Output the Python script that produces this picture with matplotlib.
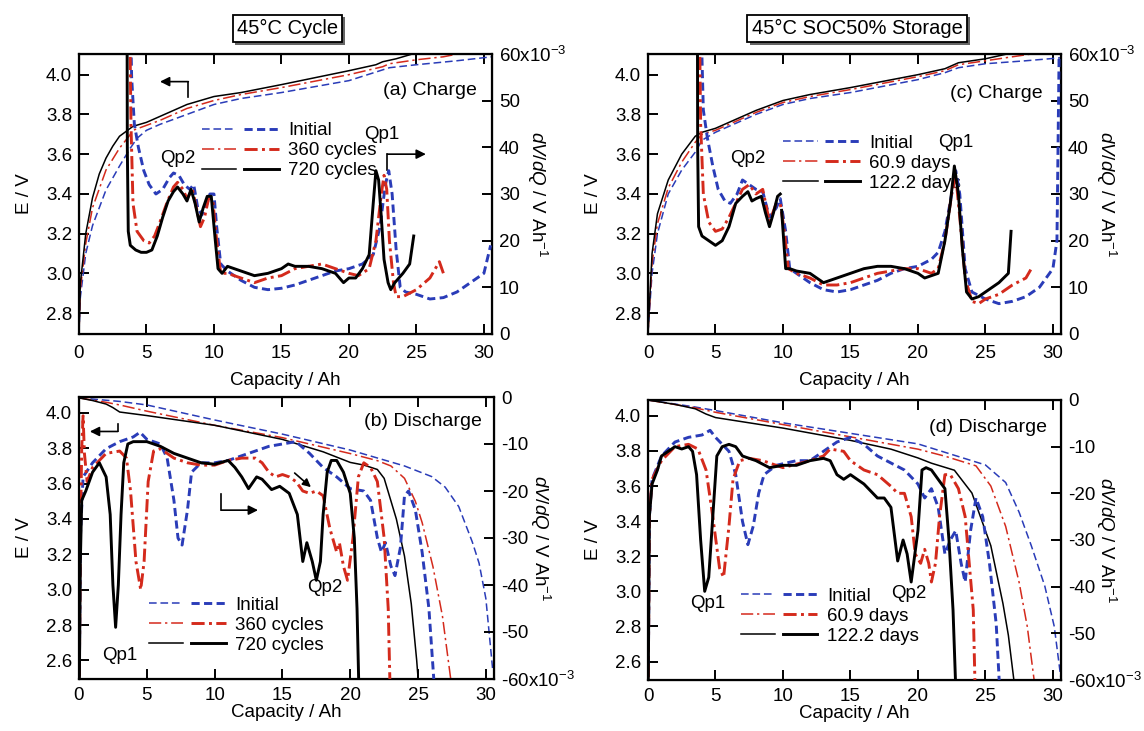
import numpy as np
import matplotlib
matplotlib.use("Agg")
import matplotlib.pyplot as plt
import matplotlib.patheffects as pe
from matplotlib.lines import Line2D
from matplotlib.legend_handler import HandlerTuple

plt.rcParams["font.family"] = ["Liberation Sans", "DejaVu Sans"]
plt.rcParams["mathtext.fontset"] = "custom"
plt.rcParams["mathtext.rm"] = "Liberation Sans"
plt.rcParams["mathtext.it"] = "Liberation Sans:italic"
plt.rcParams["font.size"] = 13.5

BLUE = "#2a3cb8"
RED = "#d42a1c"
BLACK = "black"

# ---- (a) 45C cycle, charge: E (V) vs capacity (Ah)
A_E_INIT = [(0, 2.7), (0.1, 2.88), (0.5, 3.1), (1, 3.24), (2, 3.42), (3, 3.54), (3.8, 3.63),
            (4.3, 3.68), (5, 3.72), (6, 3.75), (8, 3.8), (10, 3.85), (12, 3.88), (15, 3.91),
            (20, 3.97), (23, 4.035), (25, 4.05), (28, 4.07), (30.6, 4.09)]
A_E_360 = [(0, 2.7), (0.1, 2.92), (0.5, 3.15), (1, 3.33), (2, 3.52), (3, 3.63), (3.7, 3.69),
           (4, 3.72), (5, 3.745), (6, 3.77), (8, 3.83), (10, 3.87), (12, 3.9), (15, 3.935),
           (20, 4.0), (22.5, 4.04), (23, 4.055), (25, 4.075), (27, 4.09), (28.5, 4.11)]
A_E_720 = [(0, 2.7), (0.1, 2.95), (0.5, 3.2), (1, 3.38), (1.5, 3.5), (2, 3.58), (2.5, 3.64),
           (3, 3.69), (3.6, 3.72), (4, 3.74), (5, 3.76), (6, 3.79), (7, 3.82), (8, 3.85),
           (9, 3.87), (10, 3.89), (11, 3.9), (12, 3.91), (15, 3.95), (20, 4.02), (21, 4.035),
           (22, 4.05), (22.5, 4.065), (23.5, 4.08), (25, 4.11)]
# dV/dQ in 1e-3 V/Ah
A_D_INIT = [(3.8, 70), (3.9, 55), (4.1, 45), (4.4, 40), (4.8, 35), (5.2, 32), (5.7, 30),
            (6.2, 31), (6.7, 33.5), (7.0, 34.5), (7.4, 34), (7.8, 32), (8.2, 31), (8.5, 32),
            (8.8, 27), (9.1, 25.5), (9.5, 28), (9.7, 30), (10.0, 30), (10.2, 23), (10.5, 15),
            (11, 13.5), (12, 11.5), (13, 10), (14, 9.5), (15, 9.8), (16, 10.5), (17, 11.5),
            (18, 12.5), (19, 13.5), (20, 14), (21, 15), (21.8, 17), (22.3, 23), (22.7, 32),
            (22.95, 35), (23.2, 30), (23.5, 18), (23.8, 10), (24.2, 9), (25, 8.5), (26, 7.5),
            (27, 7.8), (28, 9), (29, 11), (30, 13), (30.5, 19)]
A_D_360 = [(3.75, 70), (3.85, 45), (4.0, 28), (4.3, 22), (4.8, 20), (5.2, 19.5), (5.6, 21),
           (6.0, 24), (6.5, 28), (7.0, 31.5), (7.3, 32.5), (7.7, 31), (8.0, 29), (8.4, 31),
           (8.7, 27), (9.0, 23), (9.3, 25), (9.6, 29), (9.9, 29), (10.2, 20), (10.5, 13),
           (11, 13), (12, 12), (13, 11), (14, 12), (15, 12.5), (16, 14), (17, 14.5), (18, 15),
           (19, 14), (20, 13), (20.7, 12.5), (21.5, 14), (22, 20), (22.4, 30), (22.6, 34),
           (22.8, 31), (23.0, 20), (23.3, 11), (23.5, 8), (24, 8), (25, 9.5), (26, 12),
           (26.7, 15.5), (27, 13)]
A_D_720 = [(3.56, 70), (3.58, 40), (3.65, 22), (3.8, 19), (4.2, 18), (4.6, 17.5), (5.0, 17.5),
           (5.4, 18), (5.8, 21), (6.2, 25), (6.6, 28.5), (7.0, 30.5), (7.3, 31.5), (7.7, 30),
           (8.0, 28.5), (8.3, 31), (8.6, 28), (8.9, 24), (9.2, 27), (9.5, 29.5), (9.8, 29.5),
           (10.1, 20), (10.3, 14), (10.6, 13), (11, 14.5), (12, 13.5), (13, 12.5), (14, 13),
           (15, 14), (15.5, 15), (16, 14.5), (17, 14.5), (18, 14), (19, 13), (19.6, 11),
           (20, 12), (20.5, 12), (21, 14), (21.5, 17), (21.8, 28), (22.0, 35), (22.2, 33),
           (22.4, 25), (22.6, 16), (22.9, 11), (23.1, 9.5), (23.4, 11), (24, 13), (24.5, 15),
           (24.8, 21)]

# ---- (b) 45C cycle, discharge
B_E_INIT = [(0, 4.085), (3, 4.065), (5, 4.045), (10, 3.96), (15, 3.88), (20, 3.79), (24, 3.7),
            (26, 3.64), (27, 3.58), (28, 3.47), (29, 3.27), (29.5, 3.15), (30, 2.95), (30.5, 2.55)]
B_E_360 = [(0, 4.085), (2, 4.06), (3, 4.045), (5, 4.01), (10, 3.93), (15, 3.86), (20, 3.77),
           (22, 3.73), (23, 3.7), (24, 3.63), (24.8, 3.5), (25.3, 3.38), (26.1, 3.13),
           (26.8, 2.85), (27.4, 2.5)]
B_E_720 = [(0, 4.085), (1, 4.07), (2, 4.05), (2.5, 4.03), (3, 4.005), (4, 3.995), (5, 3.985),
           (10, 3.93), (15, 3.85), (18, 3.78), (20, 3.72), (21, 3.705), (22, 3.68), (22.5, 3.63),
           (23.4, 3.4), (24, 3.19), (24.5, 2.92), (24.9, 2.6), (25, 2.5)]
B_D_INIT = [(0, -70), (0.1, -30), (0.3, -17), (1, -14), (2, -11), (3, -9.5), (4, -8.5),
            (4.5, -7.5), (5, -9), (6, -10), (6.5, -13), (7, -22), (7.3, -30), (7.6, -31.5),
            (8, -24), (8.3, -16), (9, -14), (10, -14), (11, -13.5), (12, -12.5), (13, -11.5),
            (14, -10.5), (15, -10), (16, -9.5), (17, -12), (18, -15), (19, -17), (20, -19.5),
            (21, -20), (21.5, -22), (22, -30), (22.3, -33), (22.6, -31), (23, -36), (23.3, -38),
            (23.7, -32), (24, -21), (24.3, -20), (24.8, -24), (25.3, -33), (25.8, -45), (26.4, -70)]
B_D_360 = [(0, -70), (0.1, -30), (0.2, -11), (0.3, -4), (0.4, -12), (0.6, -18), (1, -15),
           (2, -12), (3, -11.5), (3.5, -13), (3.8, -20), (4.2, -35), (4.55, -41), (4.8, -35),
           (5.1, -18), (5.5, -11.5), (6, -11), (7, -13), (8, -14), (9, -14.5), (10, -14.5),
           (11, -13.5), (12, -13), (13, -13), (13.5, -14), (14, -16), (14.5, -17), (15, -16.5),
           (15.5, -17), (16, -18), (16.5, -20), (17, -20.5), (17.5, -20), (18, -21), (18.5, -28),
           (19, -33), (19.2, -31), (19.5, -36), (19.8, -39), (20.2, -30), (20.6, -17), (21, -14),
           (21.5, -15), (22, -18), (22.5, -30), (22.8, -45), (23, -70)]
B_D_720 = [(0, -70), (0.1, -35), (0.2, -22), (0.5, -20), (1, -16), (1.5, -14), (2, -17),
           (2.3, -25), (2.5, -40), (2.7, -49), (2.9, -40), (3.1, -25), (3.3, -14), (3.6, -10),
           (4, -9.5), (5, -9.5), (6, -10.5), (7, -12), (8, -13), (9, -14), (10, -14.3),
           (11, -13.5), (11.5, -15), (12, -17), (12.5, -19.5), (13.1, -17), (13.5, -17.5),
           (14.2, -19.7), (14.8, -19), (15.5, -20.5), (16.1, -25), (16.3, -30), (16.5, -35),
           (16.8, -31), (17.2, -35), (17.5, -39), (17.8, -35), (18, -25), (18.3, -16),
           (18.6, -13.5), (19, -13.5), (19.5, -16), (20, -20.5), (20.3, -30), (20.5, -45),
           (20.7, -70)]

# ---- (c) 45C SOC50% storage, charge
C_E_INIT = [(0, 2.7), (0.3, 3.0), (0.7, 3.2), (1.5, 3.4), (2.5, 3.52), (3.5, 3.61), (4, 3.67),
            (5, 3.71), (6, 3.74), (8, 3.8), (10, 3.85), (12, 3.88), (15, 3.91), (20, 3.975),
            (22, 4.01), (23, 4.035), (25, 4.055), (28, 4.07), (30.6, 4.085)]
C_E_609 = [(0, 2.7), (0.3, 3.05), (0.7, 3.25), (1.5, 3.43), (2.5, 3.56), (3.5, 3.66), (4, 3.7),
           (5, 3.72), (6, 3.75), (8, 3.81), (10, 3.86), (12, 3.89), (15, 3.925), (20, 3.99),
           (22, 4.02), (23, 4.05), (25, 4.07), (28, 4.1), (29, 4.11)]
C_E_1222 = [(0, 2.7), (0.3, 3.1), (0.7, 3.3), (1.5, 3.47), (2.5, 3.6), (3.5, 3.69), (4, 3.71),
            (5, 3.73), (6, 3.76), (8, 3.82), (10, 3.87), (12, 3.9), (15, 3.935), (20, 4.0),
            (22, 4.03), (23, 4.06), (25, 4.08), (27, 4.11)]
C_D_INIT = [(3.9, 70), (4.1, 48), (4.4, 42), (4.8, 36), (5.2, 31), (5.7, 28.5), (6.1, 28),
            (6.6, 30), (7.0, 33), (7.5, 32), (8.0, 31), (8.5, 30.5), (9.0, 25), (9.5, 27),
            (9.8, 29), (10.2, 22), (10.5, 14), (11, 13), (12, 11), (13, 9.5), (14, 9), (15, 9.5),
            (16, 10.5), (17, 11.5), (18, 13), (19, 14), (20, 14.5), (21, 16), (21.5, 17.5),
            (22, 22), (22.5, 30), (22.8, 35), (23.1, 30), (23.5, 14), (24, 9), (25, 7.5),
            (26, 6.5), (27, 7), (28, 8), (29, 10), (30, 14), (30.3, 20), (30.5, 70)]
C_D_609 = [(3.8, 70), (3.9, 45), (4.1, 30), (4.5, 24), (5.0, 22), (5.5, 22.5), (6.0, 25),
           (6.5, 28), (7.0, 31), (7.5, 32), (8.0, 30), (8.5, 31), (9.0, 24), (9.5, 28), (9.8, 28),
           (10.1, 22), (10.4, 14), (11, 13), (12, 12), (13, 10.5), (14, 10.5), (15, 11), (16, 12),
           (17, 13), (18, 13.5), (19, 14), (20, 14), (21, 13), (21.5, 14), (22, 20), (22.5, 30),
           (22.8, 34), (23.1, 25), (23.5, 12), (24, 7), (24.5, 6.5), (25, 7.5), (26, 8.5),
           (27, 10.5), (28, 12), (28.4, 14)]
C_D_1222 = [(3.66, 70), (3.68, 40), (3.75, 23), (4.0, 21), (4.5, 20), (5.0, 19), (5.5, 20),
            (6.0, 23), (6.5, 28), (7.0, 29.5), (7.4, 30.5), (7.7, 28.5), (8.0, 29), (8.4, 29.5),
            (8.7, 26), (9.0, 23), (9.3, 26), (9.6, 29.5), (9.8, 30), (9.85, np.nan), (9.9, 26.5),
            (10.2, 14), (10.5, 14), (11, 13.5), (12, 13), (13, 11), (14, 12), (15, 13), (16, 14),
            (17, 14.5), (18, 14.5), (19, 14), (20, 13), (20.5, 12), (21, 12.5), (21.5, 13),
            (22, 20), (22.4, 28), (22.7, 36), (23, 30), (23.3, 18), (23.6, 9), (24, 7.5),
            (24.5, 8), (25, 9), (26, 11), (26.7, 13), (26.9, 22)]

# ---- (d) 45C SOC50% storage, discharge
D_E_INIT = [(0, 4.09), (3.5, 4.05), (5, 4.03), (10, 3.96), (15, 3.9), (20, 3.84), (25, 3.72),
            (26.5, 3.62), (27.5, 3.45), (28.4, 3.26), (29.4, 3.03), (30.1, 2.8), (30.6, 2.5)]
D_E_609 = [(0, 4.09), (3.5, 4.045), (5, 4.02), (10, 3.95), (15, 3.88), (20, 3.81), (22, 3.77),
           (24.3, 3.715), (25.4, 3.6), (26.5, 3.37), (27.5, 3.05), (28.1, 2.8), (28.6, 2.5)]
D_E_1222 = [(0, 4.09), (2, 4.065), (3.5, 4.04), (4.3, 4.01), (5, 3.99), (10, 3.93), (15, 3.86),
            (18, 3.81), (20, 3.76), (21, 3.73), (22.7, 3.69), (24, 3.56), (25.4, 3.26),
            (26.3, 2.93), (26.7, 2.75), (27.1, 2.5)]
D_D_INIT = [(0, -70), (0.1, -25), (0.3, -17), (1, -12), (2, -9), (3, -8), (4, -7.5), (4.6, -6.5),
            (5, -8), (5.5, -9.5), (6, -11), (6.5, -16), (7, -26), (7.4, -31), (7.8, -27),
            (8.2, -20), (8.6, -16), (9.5, -14), (11, -13), (12, -13), (13, -11), (14, -9),
            (15, -8), (16, -9.5), (17, -12), (18, -13.5), (19, -15), (20, -18), (20.5, -21),
            (21, -19), (21.5, -23), (22, -33), (22.4, -30), (22.8, -28), (23.2, -35), (23.5, -39),
            (23.9, -28), (24.3, -21), (24.8, -25), (25.3, -35), (25.8, -48), (26.2, -70)]
D_D_609 = [(0, -70), (0.1, -25), (0.3, -17), (1, -13), (2, -10), (3, -9.5), (3.7, -10.5),
           (4.3, -15), (4.8, -25), (5.3, -36), (5.6, -38), (6, -27), (6.3, -17), (6.8, -13),
           (7.5, -12.5), (8.5, -13), (10, -14.5), (12, -13), (13, -12), (13.5, -10.5),
           (14.5, -11), (15, -13), (16, -15), (17, -16), (18, -18.5), (18.5, -20), (19, -20),
           (19.5, -25), (19.8, -33), (20.2, -35), (20.5, -32), (20.8, -35), (21, -39),
           (21.3, -35), (21.6, -25), (22, -16), (22.4, -16), (23, -19), (23.5, -25), (23.8, -35),
           (24.1, -45), (24.3, -70)]
D_D_1222 = [(0, -70), (0.1, -25), (0.3, -18), (0.7, -15), (1, -12), (1.5, -11), (2, -10),
            (2.5, -10.5), (3, -10), (3.3, -11), (3.6, -16), (3.9, -30), (4.2, -41), (4.5, -38),
            (4.8, -25), (5.1, -12), (5.5, -10), (6, -9.5), (6.5, -10), (7, -12), (8, -13),
            (9, -14.5), (10, -14), (11, -14), (12, -13), (13, -12.5), (13.5, -13), (14, -16),
            (14.5, -17), (15, -16), (16, -18), (17, -21), (17.5, -21), (18, -23), (18.5, -34.5),
            (18.9, -30), (19.2, -33), (19.5, -39), (20, -28), (20.3, -15), (20.6, -14.5),
            (21, -15), (21.5, -17), (22, -19), (22.3, -30), (22.6, -45), (22.9, -70)]

CYCLE_LABELS = ["Initial", "360 cycles", "720 cycles"]
STORAGE_LABELS = ["Initial", "60.9 days", "122.2 days"]
TITLES = ["45\u00b0C Cycle", "45\u00b0C SOC50% Storage"]

# colour, thin (E curve) dash, thick (dV/dQ curve) dash
STYLES = [(BLUE, (0, (5, 2.5)), (0, (2.8, 1.5))),
          (RED, (0, (8, 2.5, 1.5, 2.5)), (0, (4.5, 1.5, 1, 1.5))),
          (BLACK, "-", "-")]
THIN, THICK = 1.1, 2.1


def draw_panel(ax, e_curves, d_curves, charge, labels, tag, tag_xy, leg_anchor):
    ax2 = ax.twinx()
    for (col, ls_thin, ls_thick), e, d in zip(STYLES, e_curves, d_curves):
        e = np.array(e)
        d = np.array(d)
        ax.plot(e[:, 0], e[:, 1], color=col, ls=ls_thin, lw=THIN)
        ax2.plot(d[:, 0], d[:, 1], color=col, ls=ls_thick, lw=THICK)
    ax.set_xlim(0, 30.6)
    ax.set_xticks(range(0, 31, 5))
    if charge:
        ax.set_ylim(2.695, 4.104)
        ax.set_yticks([2.8, 3.0, 3.2, 3.4, 3.6, 3.8, 4.0])
        ax2.set_ylim(0, 60)
        ax2.set_yticks(range(0, 61, 10))
        ax2.set_yticklabels(["0", "10", "20", "30", "40", "50", "60x10$^{-3}$"])
    else:
        ax.set_ylim(2.495, 4.09)
        ax.set_yticks([2.6, 2.8, 3.0, 3.2, 3.4, 3.6, 3.8, 4.0])
        ax2.set_ylim(-60, 0)
        ax2.set_yticks(range(-60, 1, 10))
        ax2.set_yticklabels(["-60x10$^{-3}$", "-50", "-40", "-30", "-20", "-10", "0"])
    ax.set_yticklabels([f"{t:.1f}" for t in ax.get_yticks()])
    ax.tick_params(axis="x", direction="in", length=7, width=1.4, top=True, pad=8 if charge else 6)
    ax.tick_params(axis="y", direction="in", length=7, width=1.4, pad=5)
    ax2.tick_params(direction="in", length=7, width=1.4, pad=5)
    for sp in ax.spines.values():
        sp.set_linewidth(1.6)
    ax.set_xlabel("Capacity / Ah", labelpad=7 if charge else 0)
    ax.set_ylabel("E / V", labelpad=9)
    ax2.set_ylabel("$dV/dQ$ / V Ah$^{-1}$", rotation=270)
    ax2.yaxis.label.set_va("center")
    ax2.yaxis.set_label_coords(1.11, 0.5)

    handles = []
    for col, ls_thin, ls_thick in STYLES:
        thin = Line2D([], [], color=col, ls=ls_thin, lw=THIN)
        thick = Line2D([], [], color=col, ls=ls_thick, lw=THICK)
        handles.append((thin, thick))
    ax.legend(handles, labels, handler_map={tuple: HandlerTuple(ndivide=None, pad=0.4)},
              loc="upper left", bbox_to_anchor=leg_anchor, frameon=False,
              handlelength=4.1, handletextpad=0.5, labelspacing=0.15,
              borderpad=0, borderaxespad=0)
    ax.text(tag_xy[0], tag_xy[1], tag, transform=ax.transAxes, ha="right", va="center",
            fontsize=14)
    return ax2


def arrow(ax, corner, head, tail_end):
    # corner-shaped pointer: short leg to tail_end, long leg ending in an arrowhead
    ax.plot([corner[0], tail_end[0]], [corner[1], tail_end[1]], color="k", lw=1.2)
    ax.annotate("", xy=head, xytext=corner,
                arrowprops=dict(arrowstyle="-|>", color="k", lw=1.2,
                                mutation_scale=14, shrinkA=0, shrinkB=0))


W, H = 1144, 731
fig = plt.figure(figsize=(W / 100, H / 100), dpi=100)


def px_axes(x0, x1, y0, y1):
    return fig.add_axes([x0 / W, 1 - y1 / H, (x1 - x0) / W, (y1 - y0) / H])


ax_a = px_axes(79, 492, 54, 334)
ax_b = px_axes(79, 494, 397, 679)
ax_c = px_axes(648, 1061, 54, 334)
ax_d = px_axes(648, 1061, 400, 680)

draw_panel(ax_a, [A_E_INIT, A_E_360, A_E_720], [A_D_INIT, A_D_360, A_D_720], True,
           CYCLE_LABELS, "(a) Charge", (0.963, 0.87), (0.297, 0.756))
draw_panel(ax_b, [B_E_INIT, B_E_360, B_E_720], [B_D_INIT, B_D_360, B_D_720], False,
           CYCLE_LABELS, "(b) Discharge", (0.97, 0.914), (0.168, 0.292))
draw_panel(ax_c, [C_E_INIT, C_E_609, C_E_1222], [C_D_INIT, C_D_609, C_D_1222], True,
           STORAGE_LABELS, "(c) Charge", (0.956, 0.86), (0.327, 0.712))
draw_panel(ax_d, [D_E_INIT, D_E_609, D_E_1222], [D_D_INIT, D_D_609, D_D_1222], False,
           STORAGE_LABELS, "(d) Discharge", (0.965, 0.902), (0.224, 0.33))

# peak labels
ax_a.text(7.3, 3.58, "Qp2", ha="center", va="center")
ax_a.text(22.4, 3.7, "Qp1", ha="center", va="center")
ax_c.text(7.4, 3.58, "Qp2", ha="center", va="center")
ax_c.text(22.8, 3.66, "Qp1", ha="center", va="center")
ax_b.text(3.0, 2.63, "Qp1", ha="center", va="center")
ax_b.text(18.1, 3.01, "Qp2", ha="center", va="center")
ax_d.text(4.4, 2.93, "Qp1", ha="center", va="center")
ax_d.text(19.3, 2.99, "Qp2", ha="center", va="center")

# axis pointers
arrow(ax_a, (8.1, 3.965), (6.0, 3.965), (8.1, 3.89))
arrow(ax_a, (22.85, 3.6), (25.7, 3.6), (22.85, 3.52))
arrow(ax_b, (2.86, 3.895), (0.8, 3.895), (2.86, 3.94))
arrow(ax_b, (10.5, 3.45), (13.2, 3.45), (10.5, 3.54))
ax_b.annotate("", xy=(17.1, 3.58), xytext=(15.9, 3.66),
              arrowprops=dict(arrowstyle="-|>", color="k", lw=1.2, mutation_scale=12,
                              shrinkA=0, shrinkB=0))

# boxed column titles with a small drop shadow
for x, title in zip([287.5, 857], TITLES):
    t = fig.text(x / W, 1 - 28.5 / H, title, ha="center", va="center", fontsize=14.5,
                 bbox=dict(boxstyle="square,pad=0.22", fc="white", ec="black", lw=1.3))
    t.get_bbox_patch().set_path_effects(
        [pe.SimplePatchShadow(offset=(2, -2), shadow_rgbFace="#666666", alpha=1), pe.Normal()])

fig.savefig("out.png", dpi=100)
